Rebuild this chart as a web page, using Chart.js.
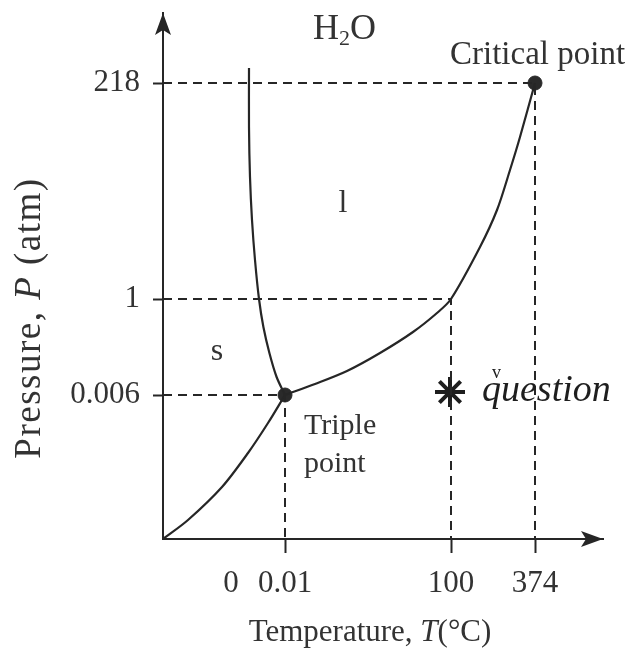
<!DOCTYPE html>
<html>
<head>
<meta charset="utf-8">
<script src="https://cdn.jsdelivr.net/npm/chart.js@4.4.1/dist/chart.umd.min.js"></script>
<style>
  html, body { margin: 0; padding: 0; background: #fff; }
  #wrap { width: 629px; height: 649px; }
</style>
</head>
<body>
<div id="wrap"><canvas id="phase-chart" width="629" height="649"></canvas></div>
<script>
// The diagram is schematic (not to scale), so every labelled value sits at a position on its axis.
const tempLabels = ["0", "0.01", "100", "374"];
const tempPositions = [17, 30.5, 72, 93];
const pressureLabels = ["0.006", "1", "218"];
const pressurePositions = [28.8, 48, 91.2];

// phase boundaries in the same axis units
const sublimationX = [0, 6.25, 14.75, 21.25, 26.25, 30.5];
const sublimationY = [0, 3.8, 10.4, 17.2, 23.2, 28.8];
const meltingX = [30.5, 28.4, 26.6, 25.1, 24, 23, 22.25, 21.75, 21.5, 21.5];
const meltingY = [28.8, 32.4, 37.2, 42.4, 48, 55.8, 63.8, 72.4, 82.4, 94.2];
const vaporX = [30.5, 38, 46, 54.25, 62.5, 68.5, 72, 79.25, 83.5, 86.75, 89.25, 93];
const vaporY = [28.8, 31.0, 33.6, 37.2, 41.4, 45.2, 48, 58.4, 65.8, 73.8, 80.4, 91.2];

// handwritten star
const markX = [71.75];
const markY = [29.4];

const INK = "#262626";
const TEXT = "#333333";
const SERIF = "'Liberation Serif', 'Times New Roman', serif";

function toPoints(xs, ys) {
  return xs.map((x, i) => ({ x, y: ys[i] }));
}

// dashed guides: (0.01, 0.006), (100, 1), (374, 218)
const guideSets = pressurePositions.map((p, i) => {
  const t = tempPositions[i + 1];
  return {
    data: [{ x: 0, y: p }, { x: t, y: p }, { x: t, y: 0 }],
    borderColor: INK,
    borderWidth: 2,
    borderDash: [9, 6],
    pointRadius: 0,
    showLine: true,
    tension: 0,
    fill: false
  };
});

const curveStyle = {
  borderColor: INK,
  borderWidth: 2.2,
  pointRadius: 0,
  showLine: true,
  tension: 0.3,
  fill: false
};

const annotationPlugin = {
  id: "phaseText",
  afterDraw(chart) {
    const ctx = chart.ctx;
    const xAxis = chart.scales.x;
    const yAxis = chart.scales.y;
    const left = xAxis.left;
    const bottom = yAxis.bottom;
    ctx.save();

    // arrow heads
    ctx.fillStyle = INK;
    const topY = yAxis.top;
    ctx.beginPath();
    ctx.moveTo(left, topY);
    ctx.lineTo(left + 8, topY + 22);
    ctx.lineTo(left, topY + 17);
    ctx.lineTo(left - 8, topY + 22);
    ctx.closePath();
    ctx.fill();
    const rightX = xAxis.right;
    ctx.beginPath();
    ctx.moveTo(rightX, bottom);
    ctx.lineTo(rightX - 22, bottom - 8);
    ctx.lineTo(rightX - 17, bottom);
    ctx.lineTo(rightX - 22, bottom + 8);
    ctx.closePath();
    ctx.fill();

    ctx.fillStyle = TEXT;
    ctx.textBaseline = "alphabetic";
    ctx.textAlign = "left";

    // H2O
    ctx.font = `36px ${SERIF}`;
    let x = 313;
    ctx.fillText("H", x, 39);
    x += ctx.measureText("H").width;
    ctx.font = `22px ${SERIF}`;
    ctx.fillText("2", x, 45);
    x += ctx.measureText("2").width;
    ctx.font = `36px ${SERIF}`;
    ctx.fillText("O", x, 39);

    ctx.font = `33px ${SERIF}`;
    ctx.fillText("Critical point", 450, 64);

    ctx.textAlign = "center";
    ctx.font = `32px ${SERIF}`;
    ctx.fillText("l", 343, 212);
    ctx.fillText("s", 217, 360);

    ctx.textAlign = "left";
    ctx.font = `30px ${SERIF}`;
    ctx.fillText("Triple", 304, 434);
    ctx.fillText("point", 304, 472);

    // handwritten note
    ctx.font = `italic 38px ${SERIF}`;
    ctx.fillStyle = "#1e1e1e";
    ctx.fillText("question", 482, 401);
    ctx.font = `18px ${SERIF}`;
    ctx.fillText("v", 492, 378);

    // x axis title
    ctx.fillStyle = TEXT;
    const parts = [
      ["Temperature, ", `31px ${SERIF}`],
      ["T", `italic 31px ${SERIF}`],
      ["(°C)", `31px ${SERIF}`]
    ];
    let total = 0;
    parts.forEach(([s, f]) => { ctx.font = f; total += ctx.measureText(s).width; });
    x = 370 - total / 2;
    parts.forEach(([s, f]) => {
      ctx.font = f;
      ctx.fillText(s, x, 641);
      x += ctx.measureText(s).width;
    });

    // y axis title
    const yParts = [
      ["Pressure, ", `37px ${SERIF}`],
      ["P", `italic 37px ${SERIF}`],
      [" (atm)", `37px ${SERIF}`]
    ];
    ctx.letterSpacing = "1.5px";
    total = 0;
    yParts.forEach(([s, f]) => { ctx.font = f; total += ctx.measureText(s).width; });
    ctx.translate(40, 318);
    ctx.rotate(-Math.PI / 2);
    x = -total / 2;
    yParts.forEach(([s, f]) => {
      ctx.font = f;
      ctx.fillText(s, x, 0);
      x += ctx.measureText(s).width;
    });

    ctx.restore();
  }
};

new Chart(document.getElementById("phase-chart"), {
  type: "scatter",
  data: {
    datasets: [
      ...guideSets,
      { ...curveStyle, data: toPoints(sublimationX, sublimationY) },
      { ...curveStyle, data: toPoints(meltingX, meltingY) },
      { ...curveStyle, data: toPoints(vaporX, vaporY) },
      {
        data: [
          { x: tempPositions[1], y: pressurePositions[0] },
          { x: tempPositions[3], y: pressurePositions[2] }
        ],
        pointRadius: 7,
        pointBackgroundColor: "#2a2a2a",
        pointBorderColor: "#2a2a2a",
        showLine: false
      },
      {
        data: toPoints(markX, markY),
        pointStyle: "star",
        pointRadius: 15,
        pointBorderWidth: 4,
        pointBorderColor: "#1e1e1e",
        showLine: false
      }
    ]
  },
  options: {
    responsive: false,
    animation: false,
    events: [],
    layout: { autoPadding: false, padding: { top: 13, right: 26, left: 0, bottom: 0 } },
    plugins: { legend: { display: false }, tooltip: { enabled: false } },
    scales: {
      x: {
        type: "linear",
        min: 0,
        max: 110,
        afterFit(scale) {
          scale.height = 110;
          scale.paddingLeft = 0;
          scale.paddingRight = 0;
        },
        afterBuildTicks(scale) { scale.ticks = tempPositions.map((v) => ({ value: v })); },
        grid: {
          drawOnChartArea: false,
          drawTicks: true,
          tickLength: 14,
          tickWidth: 2,
          tickColor: (c) => (c.index === 0 ? "rgba(0,0,0,0)" : INK)
        },
        border: { display: true, color: INK, width: 2 },
        ticks: {
          autoSkip: false,
          maxRotation: 0,
          padding: 12,
          color: TEXT,
          font: { family: SERIF, size: 31 },
          callback: (v) => tempLabels[tempPositions.indexOf(v)]
        }
      },
      y: {
        type: "linear",
        min: 0,
        max: 105.2,
        afterFit(scale) {
          scale.width = 163;
          scale.paddingTop = 0;
          scale.paddingBottom = 0;
        },
        afterBuildTicks(scale) { scale.ticks = pressurePositions.map((v) => ({ value: v })); },
        grid: {
          drawOnChartArea: false,
          drawTicks: true,
          tickLength: 10,
          tickWidth: 2,
          tickColor: INK
        },
        border: { display: true, color: INK, width: 2 },
        ticks: {
          padding: 13,
          color: TEXT,
          font: { family: SERIF, size: 31 },
          callback: (v) => pressureLabels[pressurePositions.indexOf(v)]
        }
      }
    }
  },
  plugins: [annotationPlugin]
});
</script>
</body>
</html>
